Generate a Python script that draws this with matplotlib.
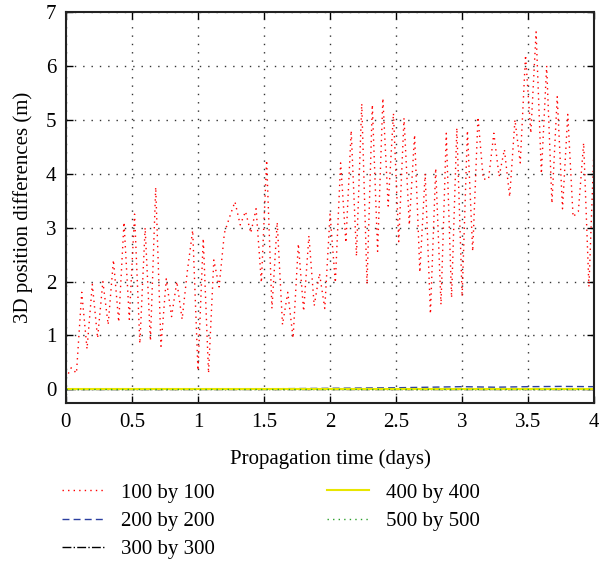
import numpy as np
import matplotlib.pyplot as plt

plt.rcParams["font.family"] = ["Liberation Serif", "DejaVu Serif"]

# time samples (days), one every 0.04 d (half an orbit)
t = np.arange(101) * 0.04

# 100 by 100 grid: oscillating position differences (m)
d100 = [0.20, 0.40, 0.30, 1.80, 0.75, 1.95, 0.95, 2.00, 1.20, 2.40,
        1.25, 3.10, 1.30, 3.25, 0.85, 3.00, 0.90, 3.75, 0.80, 2.05,
        1.35, 2.00, 1.30, 2.20, 2.95, 0.35, 2.80, 0.30, 2.40, 1.90,
        2.90, 3.20, 3.48, 3.05, 3.30, 2.90, 3.35, 1.98, 4.25, 1.50,
        3.10, 1.20, 1.80, 0.95, 2.70, 1.45, 2.85, 1.55, 2.15, 1.50,
        3.25, 1.98, 4.20, 2.72, 4.80, 2.47, 5.30, 1.95, 5.28, 2.56,
        5.40, 3.40, 5.12, 2.74, 5.03, 3.05, 4.72, 2.17, 4.00, 1.40,
        4.10, 1.57, 4.75, 1.70, 4.85, 1.72, 4.80, 2.56, 5.05, 3.90,
        3.90, 4.75, 3.95, 4.45, 3.57, 5.00, 4.20, 6.20, 4.75, 6.63,
        4.00, 6.00, 3.45, 5.43, 3.35, 5.10, 3.20, 3.30, 4.57, 1.90,
        4.60]

# finer grids stay near zero
t_small = np.arange(17) * 0.25
d200 = [0.0, 0.0, 0.0, 0.0, 0.005, 0.01, 0.01, 0.015, 0.02, 0.025,
        0.03, 0.04, 0.05, 0.04, 0.05, 0.055, 0.05]
d300 = [0.0] * 17
d400 = [0.0] * 17
d500 = [0.0] * 17

fig = plt.figure(figsize=(5.99, 5.69), dpi=100)
ax = fig.add_axes([0.110, 0.292, 0.882, 0.687])

ax.plot(t, d100, color="red", linestyle=(0, (1, 3)), linewidth=1.0, label="100 by 100")
ax.plot(t_small, d200, color="#2b3fa0", linestyle=(0, (5, 3)), linewidth=1.0, label="200 by 200")
ax.plot(t_small, d300, color="black", linestyle="-.", linewidth=1.0, label="300 by 300")
ax.plot(t_small, d400, color="#e8e600", linestyle="-", linewidth=1.5, label="400 by 400")
ax.plot(t_small, d500, color="#2ca02c", linestyle=(0, (1, 3)), linewidth=1.0, label="500 by 500")

ax.set_xlim(0, 4)
ax.set_ylim(-0.25, 7)
ax.set_xticks(np.arange(0, 4.01, 0.5))
ax.set_xticklabels(["0", "0.5", "1", "1.5", "2", "2.5", "3", "3.5", "4"])
ax.set_yticks(range(0, 8))
ax.tick_params(direction="in", top=True, right=True, labelsize=15, length=5, width=1, pad=7)
ax.grid(True, color="#333333", linestyle=(0, (1, 5)), linewidth=1.0)
for s in ax.spines.values():
    s.set_linewidth(1.5)
    s.set_color("#222222")

ax.set_xlabel("Propagation time (days)", fontsize=15, labelpad=13)
ax.set_ylabel("3D position differences (m)", fontsize=15, labelpad=9)

fig.legend(loc="upper left", bbox_to_anchor=(0.073, 0.184), ncol=2, frameon=False,
           fontsize=15, handlelength=2.0, columnspacing=5.4, labelspacing=0.42,
           handletextpad=0.8)

fig.savefig("out.png", dpi=100)
